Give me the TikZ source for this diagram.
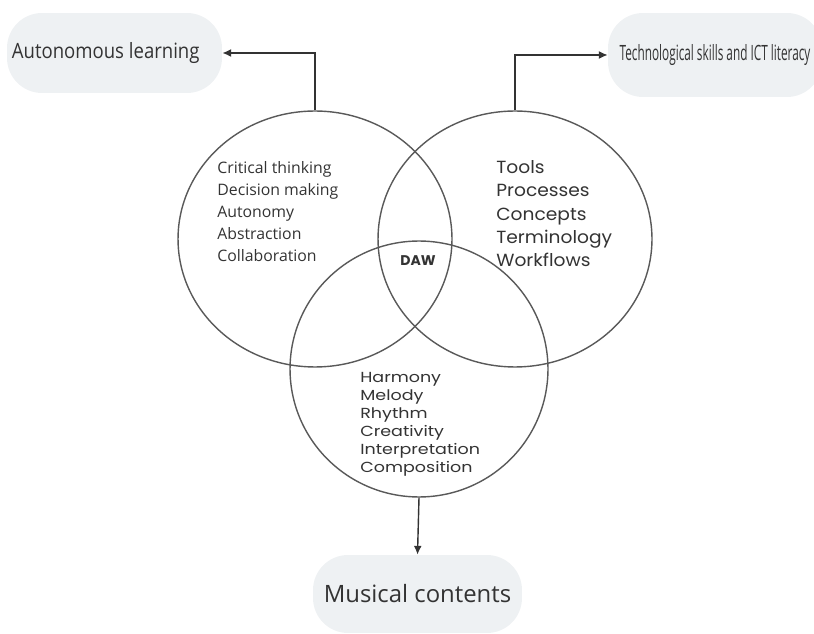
\documentclass[tikz,border=0pt]{standalone}
\usepackage{fontspec}
\setmainfont{Open Sans}
\newfontfamily\vennfont{Poppins}
\newfontfamily\widefont[FakeStretch=1.06]{Poppins}
\newfontfamily\widerfont[FakeStretch=1.2]{Poppins}
\newfontfamily\slimfont[FakeStretch=0.88]{Open Sans}
\newfontfamily\narrowfont[FakeStretch=0.56]{Open Sans}
\usetikzlibrary{shapes.geometric, arrows.meta}
\definecolor{capsule}{RGB}{238,241,243}

\begin{document}
\begin{tikzpicture}[x=0.02cm, y=-0.02cm,
    venn/.style={ellipse, draw=black!65, line width=0.8pt, minimum width=5.48cm, minimum height=5.12cm, inner sep=0pt},
    goal/.style={fill=capsule, rounded corners=0.7cm, inner sep=0pt, text=black!80},
    link/.style={draw=black!80, line width=0.8pt, -{Latex[length=5pt,width=4.5pt]}},
    items/.style={align=left, anchor=north west, inner sep=0pt, text=black!80}]
		\useasboundingbox (0,0) rectangle (814,634);
		
		\node[venn] (skills) at (315,239) {};
		\node[venn] (tech) at (515,239) {};
		\node[venn, minimum width=5.16cm] (music) at (419,369) {};
		
		\node[goal, minimum width=4.3cm, minimum height=1.6cm, font=\slimfont\fontsize{12}{14}\selectfont] (autolearn) at (114.5,53) {Autonomous learning\kern10pt};
		\node[goal, minimum width=4.28cm, minimum height=1.68cm, font=\narrowfont\fontsize{12}{14}\selectfont] (ict) at (715,55) {Technological skills and ICT literacy};
		\node[goal, minimum width=4.18cm, minimum height=1.56cm, font=\fontsize{13.6}{16}\selectfont] (contents) at (417.5,594) {Musical contents};
		
		\node[items, font=\fontsize{9}{12.5}\selectfont] (softlist) at (217,161)
			{Critical thinking\\Decision making\\Autonomy\\Abstraction\\Collaboration};
		\node[items, font=\widefont\fontsize{10}{13.3}\selectfont] (techlist) at (496,160)
			{Tools\\Processes\\Concepts\\Terminology\\Workflows};
		\node[items, font=\widerfont\fontsize{8.3}{10.2}\selectfont] (musiclist) at (360,372)
			{Harmony\\Melody\\Rhythm\\Creativity\\Interpretation\\Composition};
		\node[font=\vennfont\bfseries\fontsize{8}{9}\selectfont, text=black!80] (daw) at (418,261) {DAW};
		
		\draw[link] (skills.north) |- (autolearn.east);
		\draw[link] (tech.north) |- (ict.west);
		\draw[link] (music.south) -- (contents.north);
		\end{tikzpicture}
\end{document}
